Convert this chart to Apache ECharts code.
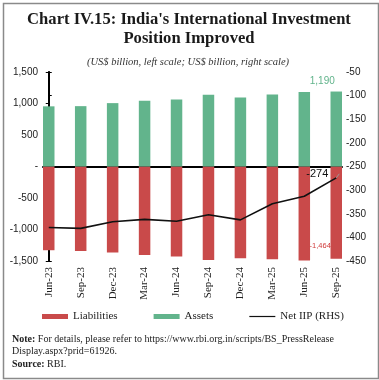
<!DOCTYPE html>
<html>
<head>
<meta charset="utf-8">
<script src="https://cdn.jsdelivr.net/npm/echarts@6/dist/echarts.min.js"></script>
<style>
html,body{margin:0;padding:0;background:#fff;}
#c{width:379px;height:380px;}
</style>
</head>
<body>
<div id="c"></div>
<script>
const categories = ['Jun-23','Sep-23','Dec-23','Mar-24','Jun-24','Sep-24','Dec-24','Mar-25','Jun-25','Sep-25'];
const liabilities = [-1329,-1340,-1366,-1404,-1430,-1484,-1457,-1473,-1493,-1464];
const assets = [955,958,1006,1043,1063,1138,1095,1143,1182,1190];
const netIIP = [-379,-381,-367,-362,-366,-352,-363,-329,-313,-274];
const leftTicks = [-1500,-1000,-500,0,500,1000,1500];
const rightTicks = [-450,-400,-350,-300,-250,-200,-150,-100,-50];

const RED = '#c94a4a';
const GREEN = '#62b48c';
const SERIF = '"Liberation Serif", "DejaVu Serif", serif';
const SANS = '"Liberation Sans", "DejaVu Sans", sans-serif';
const last = categories.length - 1;

function fmtLeft(v){
  if (v === 0) return '-';
  return v.toLocaleString('en-US');
}

const idx = categories.map((c, i) => i);

const chart = echarts.init(document.getElementById('c'), null, {renderer: 'canvas'});
chart.setOption({
  animation: false,
  backgroundColor: '#fff',
  grid: {left: 43, right: 37, top: 72, bottom: 119, containLabel: false},
  xAxis: [{
    type: 'value', min: -0.18, max: last + 0.18, position: 'bottom',
    axisLine: {show: true, onZero: true, lineStyle: {color: '#000', width: 2}},
    axisTick: {show: false}, axisLabel: {show: false}, splitLine: {show: false}
  }, {
    type: 'value', min: -0.18, max: last + 0.18, position: 'bottom',
    axisLine: {show: false, onZero: false},
    axisTick: {show: false}, splitLine: {show: false},
    axisLabel: {
      show: true, rotate: 90, margin: 6, customValues: idx,
      fontFamily: SERIF, fontSize: 11, color: '#222',
      formatter: v => categories[Math.round(v)]
    }
  }],
  yAxis: [{
    type: 'value', min: -1500, max: 1500, interval: 500, position: 'left',
    axisLine: {show: true, lineStyle: {color: '#000', width: 1.5}},
    axisTick: {show: true, inside: false, length: 3, lineStyle: {color: '#000'}},
    axisLabel: {formatter: fmtLeft, fontFamily: SANS, fontSize: 10, color: '#222', margin: 5},
    splitLine: {show: false}
  }, {
    type: 'value', min: -450, max: -50, interval: 50, position: 'right',
    axisLine: {show: true, lineStyle: {color: '#000', width: 2}},
    axisTick: {show: true, inside: false, length: 3, lineStyle: {color: '#000'}},
    axisLabel: {fontFamily: SANS, fontSize: 10, color: '#222', margin: 4},
    splitLine: {show: false}
  }],
  legend: {
    left: 42, top: 311, padding: 0, itemWidth: 26, itemHeight: 5, itemGap: 36,
    textStyle: {fontFamily: SERIF, fontSize: 11, color: '#222'},
    data: [
      {name: 'Liabilities', icon: 'rect'},
      {name: 'Assets', icon: 'rect'},
      {name: 'Net IIP (RHS)', icon: 'path://M0,20 L260,20 L260,32 L0,32 Z', itemStyle: {color: '#111'}}
    ]
  },
  series: [{
    name: 'Liabilities', type: 'bar', stack: 'iip', barWidth: 11.5,
    xAxisIndex: 0, yAxisIndex: 0,
    itemStyle: {color: RED},
    data: liabilities.map((v, i) => i === last ? {
      value: [i, v],
      label: {show: true, position: 'insideBottom', offset: [-16, -4], color: '#d03a3a', fontFamily: SANS, fontSize: 7.5,
        formatter: p => p.value[1].toLocaleString('en-US')}
    } : [i, v])
  }, {
    name: 'Assets', type: 'bar', stack: 'iip', barWidth: 11.5,
    xAxisIndex: 0, yAxisIndex: 0,
    itemStyle: {color: GREEN},
    data: assets.map((v, i) => i === last ? {
      value: [i, v],
      label: {show: true, position: 'top', distance: 5, offset: [-14, 0], color: GREEN, fontFamily: SANS, fontSize: 10,
        formatter: p => p.value[1].toLocaleString('en-US')}
    } : [i, v])
  }, {
    name: 'Net IIP (RHS)', type: 'line', xAxisIndex: 0, yAxisIndex: 1,
    symbol: 'circle', symbolSize: 0.01, showSymbol: true,
    lineStyle: {color: '#111', width: 1.6},
    itemStyle: {color: '#111'},
    labelLine: {show: true, lineStyle: {color: '#999', width: 1}},
    data: netIIP.map((v, i) => i === last ? {
      value: [i, v],
      label: {show: true, position: 'left', distance: 8, offset: [0, -4], color: '#111', fontFamily: SANS, fontSize: 11,
        formatter: p => String(p.value[1])}
    } : [i, v])
  }],
  graphic: [{
    type: 'rect', left: 1, top: 1, silent: true,
    shape: {width: 375, height: 375},
    style: {fill: 'none', stroke: '#8a8a8a', lineWidth: 1.5}
  }, {
    type: 'text', x: 189, y: 20, silent: true,
    style: {text: "Chart IV.15: India's International Investment", textAlign: 'center', textVerticalAlign: 'middle',
      fontFamily: SERIF, fontWeight: 'bold', fontSize: 16.6, fill: '#1a1a1a'}
  }, {
    type: 'text', x: 189, y: 39, silent: true,
    style: {text: 'Position Improved', textAlign: 'center', textVerticalAlign: 'middle',
      fontFamily: SERIF, fontWeight: 'bold', fontSize: 16.6, fill: '#1a1a1a'}
  }, {
    type: 'text', x: 188, y: 62, silent: true,
    style: {text: '(US$ billion, left scale; US$ billion, right scale)', textAlign: 'center', textVerticalAlign: 'middle',
      fontFamily: SERIF, fontStyle: 'italic', fontSize: 10.5, fill: '#333'}
  }, {
    type: 'text', left: 12, top: 333,
    style: {
      text: '{b|Note:} For details, please refer to https://www.rbi.org.in/scripts/BS_PressRelease\nDisplay.aspx?prid=61926.\n{b|Source:} RBI.',
      fontFamily: SERIF, fontSize: 10, lineHeight: 12.5, fill: '#222',
      rich: {b: {fontFamily: SERIF, fontSize: 10, fontWeight: 'bold', fill: '#222'}}
    }
  }]
});
</script>
</body>
</html>
